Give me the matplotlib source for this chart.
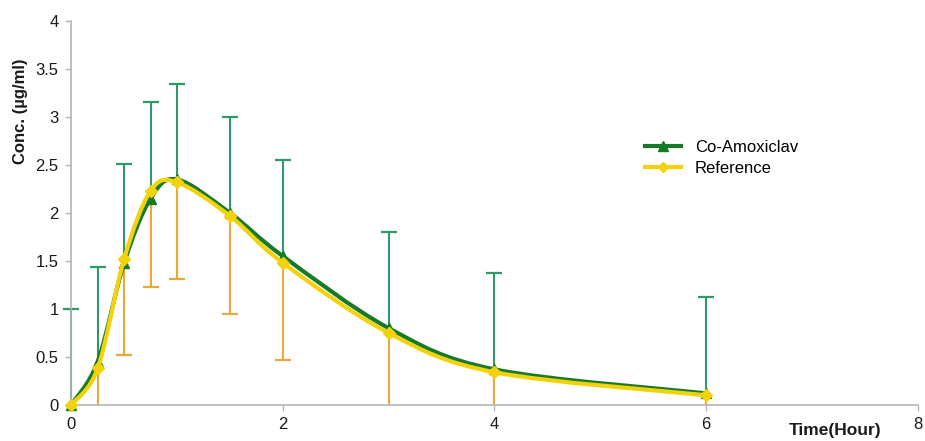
import matplotlib
matplotlib.use("Agg")
import matplotlib.pyplot as plt
from matplotlib.path import Path
from matplotlib.patches import PathPatch
from matplotlib.lines import Line2D
from matplotlib.ticker import FormatStrFormatter
import numpy as np

plt.rcParams['font.family'] = ['Liberation Sans', 'DejaVu Sans']

time_h = [0, 0.25, 0.5, 0.75, 1, 1.5, 2, 3, 4, 6]
coamox = [0.0, 0.45, 1.48, 2.15, 2.35, 2.00, 1.55, 0.80, 0.37, 0.12]
coamox_sd = [1.00, 0.99, 1.03, 1.01, 1.00, 1.00, 1.00, 1.00, 1.00, 1.00]
reference = [0.0, 0.38, 1.52, 2.23, 2.32, 1.97, 1.48, 0.75, 0.34, 0.10]
reference_sd = [0.0, 1.00, 1.00, 1.00, 1.01, 1.02, 1.01, 1.00, 1.00, 1.00]
x_ticks = [0, 2, 4, 6, 8]
y_ticks = [0, 0.5, 1, 1.5, 2, 2.5, 3, 3.5, 4]

GREEN = '#177a26'
GREEN_ERR = '#2f9a68'
YELLOW = '#f2d20a'
ORANGE = '#e8a93a'
FS = 12


def smooth_path(x, y):
    pts = np.column_stack([x, y]).astype(float)
    n = len(pts)
    verts = [pts[0]]
    codes = [Path.MOVETO]
    for i in range(n - 1):
        p0 = pts[i - 1] if i > 0 else pts[i]
        p1 = pts[i]
        p2 = pts[i + 1]
        p3 = pts[i + 2] if i + 2 < n else pts[i + 1]
        c1 = p1 + (p2 - p0) / 6.0
        c2 = p2 - (p3 - p1) / 6.0
        verts += [c1, c2, p2]
        codes += [Path.CURVE4] * 3
    return Path(verts, codes)


fig = plt.figure(figsize=(9.25, 4.41), dpi=100)
ax = fig.add_axes([0.077, 0.082, 0.915, 0.870])

t = np.array(time_h)
g = np.array(coamox)
gs = np.array(coamox_sd)
r = np.array(reference)
rs = np.array(reference_sd)

# error bars
ax.vlines(t, g, g + gs, color=GREEN_ERR, lw=1.5, zorder=2.5, clip_on=False)
ax.plot(t, g + gs, ls='none', marker='_', ms=11, mew=1.6, color=GREEN_ERR, zorder=2.5,
        clip_on=False)
mask = rs > 0
ax.vlines(t[mask], r[mask] - rs[mask], r[mask], color=ORANGE, lw=1.5, zorder=2)
ax.plot(t[mask], r[mask] - rs[mask], ls='none', marker='_', ms=11, mew=1.6, color=ORANGE, zorder=2)

# smooth curves
ax.add_patch(PathPatch(smooth_path(t, g), fill=False, edgecolor=GREEN, lw=3.0, zorder=3,
                       capstyle='round', joinstyle='round'))
ax.plot(t, g, ls='none', marker='^', ms=7, color=GREEN, zorder=4, clip_on=False)
ax.add_patch(PathPatch(smooth_path(t, r), fill=False, edgecolor=YELLOW, lw=3.0, zorder=5,
                       capstyle='round', joinstyle='round'))
ax.plot(t, r, ls='none', marker='D', ms=6, color=YELLOW, zorder=6, clip_on=False)

ax.set_xlim(0, 8)
ax.set_ylim(0, 4)
ax.set_xticks(x_ticks)
ax.set_yticks(y_ticks)
ax.yaxis.set_major_formatter(FormatStrFormatter('%g'))

for s in ['top', 'right']:
    ax.spines[s].set_visible(False)
for s in ['left', 'bottom']:
    ax.spines[s].set_color('#b5b5b5')
    ax.spines[s].set_linewidth(1.2)
ax.tick_params(axis='both', colors='#b5b5b5', labelcolor='#1a1a1a', labelsize=FS,
               length=4, width=1)
ax.tick_params(axis='y', pad=5)
ax.tick_params(axis='x', pad=5)

ax.set_ylabel('Conc. (µg/ml)', fontsize=FS, fontweight='bold', color='#1a1a1a')
ax.yaxis.set_label_coords(-0.051, 0.765)
ax.text(0.902, -0.048, 'Time(Hour)', transform=ax.transAxes, ha='center', va='top',
        fontsize=FS + 0.5, fontweight='bold', color='#1a1a1a')

handles = [Line2D([], [], color=GREEN, lw=3, marker='^', ms=7),
           Line2D([], [], color=YELLOW, lw=3, marker='D', ms=5)]
ax.legend(handles, ['Co-Amoxiclav', 'Reference'], loc='upper left',
          bbox_to_anchor=(0.66, 0.73), frameon=False, fontsize=FS,
          handlelength=2.2, labelspacing=0.35, handletextpad=0.8)

fig.savefig('out.png', dpi=100, facecolor='white')
